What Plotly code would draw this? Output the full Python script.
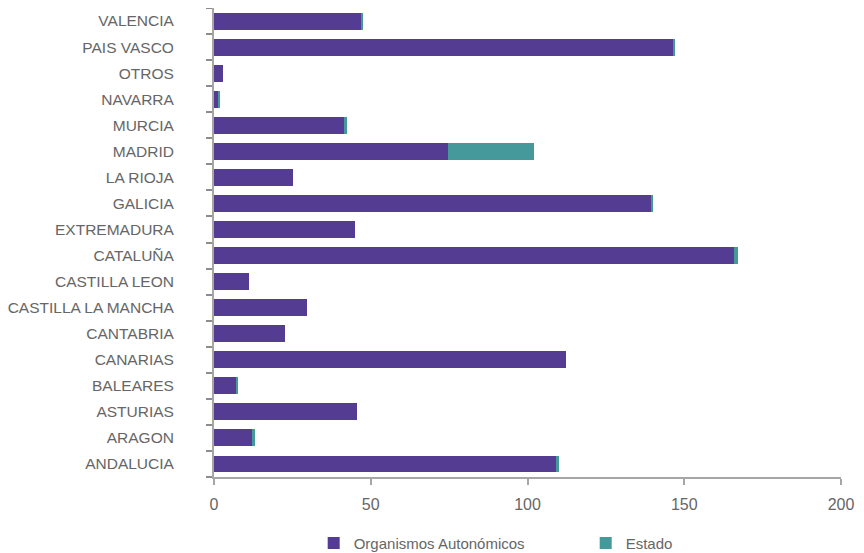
import plotly.graph_objects as go

categories = ["ANDALUCIA", "ARAGON", "ASTURIAS", "BALEARES", "CANARIAS", "CANTABRIA",
              "CASTILLA LA MANCHA", "CASTILLA LEON", "CATALUÑA", "EXTREMADURA", "GALICIA",
              "LA RIOJA", "MADRID", "MURCIA", "NAVARRA", "OTROS", "PAIS VASCO", "VALENCIA"]
organismos = [109.4, 12.4, 45.6, 7.3, 112.3, 22.6, 29.7, 11.2, 165.9, 45.0, 139.7,
              25.2, 74.6, 41.5, 1.3, 2.9, 146.7, 47.2]
estado = [0.6, 0.6, 0.0, 0.4, 0.0, 0.0, 0.0, 0.0, 1.3, 0.0, 0.4,
          0.0, 27.4, 1.0, 0.4, 0.0, 0.3, 0.4]
x_ticks = [0, 50, 100, 150, 200]

PURPLE = "#543C92"
TEAL = "#45999B"
TXT = "#666666"
AX = "#a6a6a6"
FONT = "Liberation Sans"

fig = go.Figure()
fig.add_trace(go.Bar(y=categories, x=organismos, orientation="h", name="Organismos Autonómicos",
                     marker=dict(color=PURPLE, line=dict(width=0))))
fig.add_trace(go.Bar(y=categories, x=estado, orientation="h", name="Estado",
                     marker=dict(color=TEAL, line=dict(width=0))))

# page body has an 8px default margin, so the figure is sized to fit the window
fig.update_layout(
    barmode="stack",
    bargap=0.35,
    width=856, height=545,
    margin=dict(l=206, r=23, t=0, b=76, autoexpand=False),
    plot_bgcolor="white", paper_bgcolor="white",
    font=dict(family=FONT, size=15, color=TXT),
    showlegend=True,
    legend=dict(orientation="h", x=0.159, xanchor="left", y=-0.141, yanchor="middle",
                font=dict(family=FONT, size=15, color=TXT), entrywidth=227,
                itemwidth=30, traceorder="normal"),
    xaxis=dict(range=[0, 200], tickvals=x_ticks, showgrid=False, zeroline=False,
               showline=True, linecolor=AX, linewidth=2, ticks="outside", ticklen=6,
               tickcolor=AX, tickwidth=2, ticklabelstandoff=6, automargin=False,
               tickfont=dict(family=FONT, size=16, color=TXT)),
    yaxis=dict(categoryorder="array", categoryarray=categories, showgrid=False,
               zeroline=False, showline=True, linecolor=AX, linewidth=2,
               ticks="outside", ticklen=6, tickcolor="#8c8c8c", tickwidth=2,
               tickson="boundaries", ticklabelstandoff=35, automargin=False,
               tickfont=dict(family=FONT, size=15.5, color=TXT)),
)

fig.write_html("out.html")
